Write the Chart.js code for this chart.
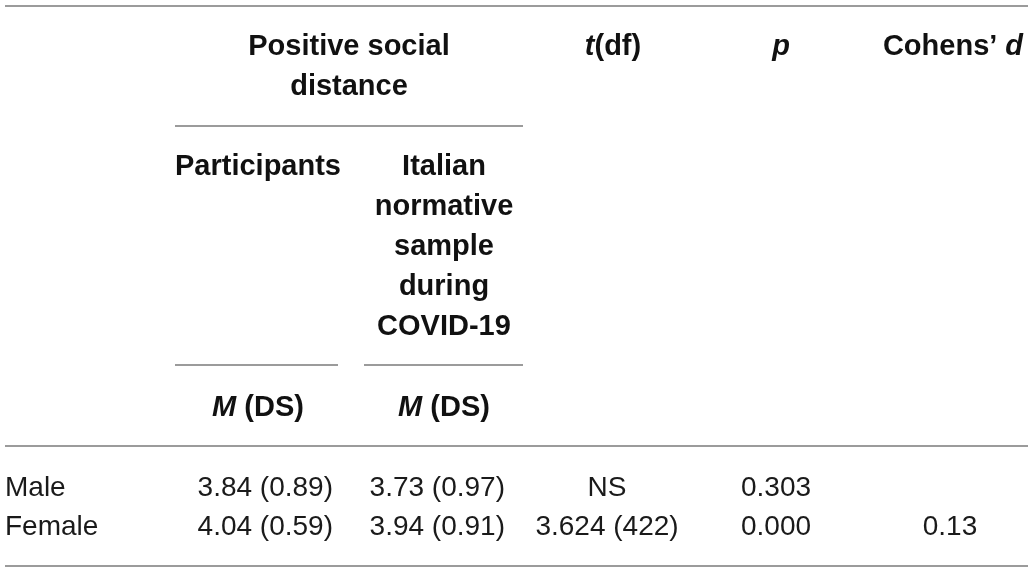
<!DOCTYPE html>
<html>
<head>
<meta charset="utf-8">
<script src="https://cdn.jsdelivr.net/npm/chart.js@4/dist/chart.umd.min.js"></script>
<style>
  html, body { margin: 0; padding: 0; background: #fff; }
  #wrap { width: 1034px; height: 572px; position: relative; }
</style>
</head>
<body>
<div id="wrap"><canvas id="myChart"></canvas></div>
<script>
// Table values
const groups = ["Male", "Female"];
const participantsM = [3.84, 4.04];
const participantsSD = [0.89, 0.59];
const normativeM = [3.73, 3.94];
const normativeSD = [0.97, 0.91];
const tValues = [null, 3.624];
const dfValues = [null, 422];
const pValues = [0.303, 0.0];
const cohensD = [null, 0.13];

// layout (in scale units, 1 unit = 1 px)
const rowY = [488, 527];
const boldFont = "bold 29px 'Liberation Sans', Arial, sans-serif";
const boldItalic = "italic bold 29px 'Liberation Sans', Arial, sans-serif";
const regFont = "28px 'Liberation Sans', Arial, sans-serif";

function drawRuns(ctx, runs, x, y, align) {
  // runs: [text, italic]
  let total = 0;
  runs.forEach(([t, it]) => {
    ctx.font = it ? boldItalic : boldFont;
    total += ctx.measureText(t).width;
  });
  let start = align === "center" ? x - total / 2 : x;
  ctx.textAlign = "left";
  runs.forEach(([t, it]) => {
    ctx.font = it ? boldItalic : boldFont;
    ctx.fillText(t, start, y);
    start += ctx.measureText(t).width;
  });
}

const tablePlugin = {
  id: "table",
  afterDraw(chart) {
    const ctx = chart.ctx;
    const xs = chart.scales.x;
    const ys = chart.scales.y;
    const X = (v) => xs.getPixelForValue(v);
    const Y = (v) => ys.getPixelForValue(v);

    ctx.save();
    ctx.fillStyle = "#fff";
    ctx.fillRect(0, 0, chart.width, chart.height);

    // rules
    ctx.strokeStyle = "#7a7a7a";
    ctx.lineWidth = 1.5;
    const rules = [
      [5, 1028, 6], [175, 523, 126], [175, 338, 365], [364, 523, 365],
      [5, 1028, 446], [5, 1028, 566]
    ];
    rules.forEach(([x1, x2, y]) => {
      ctx.beginPath();
      ctx.moveTo(X(x1), Y(y));
      ctx.lineTo(X(x2), Y(y));
      ctx.stroke();
    });

    // header
    ctx.fillStyle = "#111";
    ctx.textBaseline = "middle";
    drawRuns(ctx, [["Positive social", false]], X(349), Y(47), "center");
    drawRuns(ctx, [["distance", false]], X(349), Y(87), "center");
    drawRuns(ctx, [["t", true], ["(df)", false]], X(613), Y(47), "center");
    drawRuns(ctx, [["p", true]], X(781), Y(47), "center");
    drawRuns(ctx, [["Cohens’ ", false], ["d", true]], X(953), Y(47), "center");
    drawRuns(ctx, [["Participants", false]], X(258), Y(167), "center");
    ["Italian", "normative", "sample", "during", "COVID-19"].forEach((t, i) => {
      drawRuns(ctx, [[t, false]], X(444), Y(167 + i * 40), "center");
    });
    drawRuns(ctx, [["M", true], [" (DS)", false]], X(258), Y(408), "center");
    drawRuns(ctx, [["M", true], [" (DS)", false]], X(444), Y(408), "center");

    // body
    ctx.font = regFont;
    ctx.fillStyle = "#1a1a1a";
    groups.forEach((g, i) => {
      const y = Y(rowY[i]);
      ctx.textAlign = "left";
      ctx.fillText(g, X(5), y);
      ctx.textAlign = "right";
      ctx.fillText(participantsM[i].toFixed(2) + " (" + participantsSD[i].toFixed(2) + ")", X(333), y);
      ctx.fillText(normativeM[i].toFixed(2) + " (" + normativeSD[i].toFixed(2) + ")", X(505), y);
      ctx.textAlign = "center";
      const t = tValues[i] === null ? "NS" : tValues[i].toFixed(3) + " (" + dfValues[i] + ")";
      ctx.fillText(t, X(607), y);
      ctx.fillText(pValues[i].toFixed(3), X(776), y);
      if (cohensD[i] !== null) ctx.fillText(cohensD[i].toFixed(2), X(950), y);
    });
    ctx.restore();
  }
};

new Chart(document.getElementById("myChart"), {
  type: "scatter",
  data: { datasets: [{ data: [], pointRadius: 0 }] },
  options: {
    responsive: true,
    maintainAspectRatio: false,
    animation: false,
    layout: { padding: 0 },
    plugins: { legend: { display: false }, tooltip: { enabled: false } },
    scales: {
      x: { type: "linear", min: 0, max: 1034, display: false },
      y: { type: "linear", min: 0, max: 572, reverse: true, display: false }
    }
  },
  plugins: [tablePlugin]
});
</script>
</body>
</html>
